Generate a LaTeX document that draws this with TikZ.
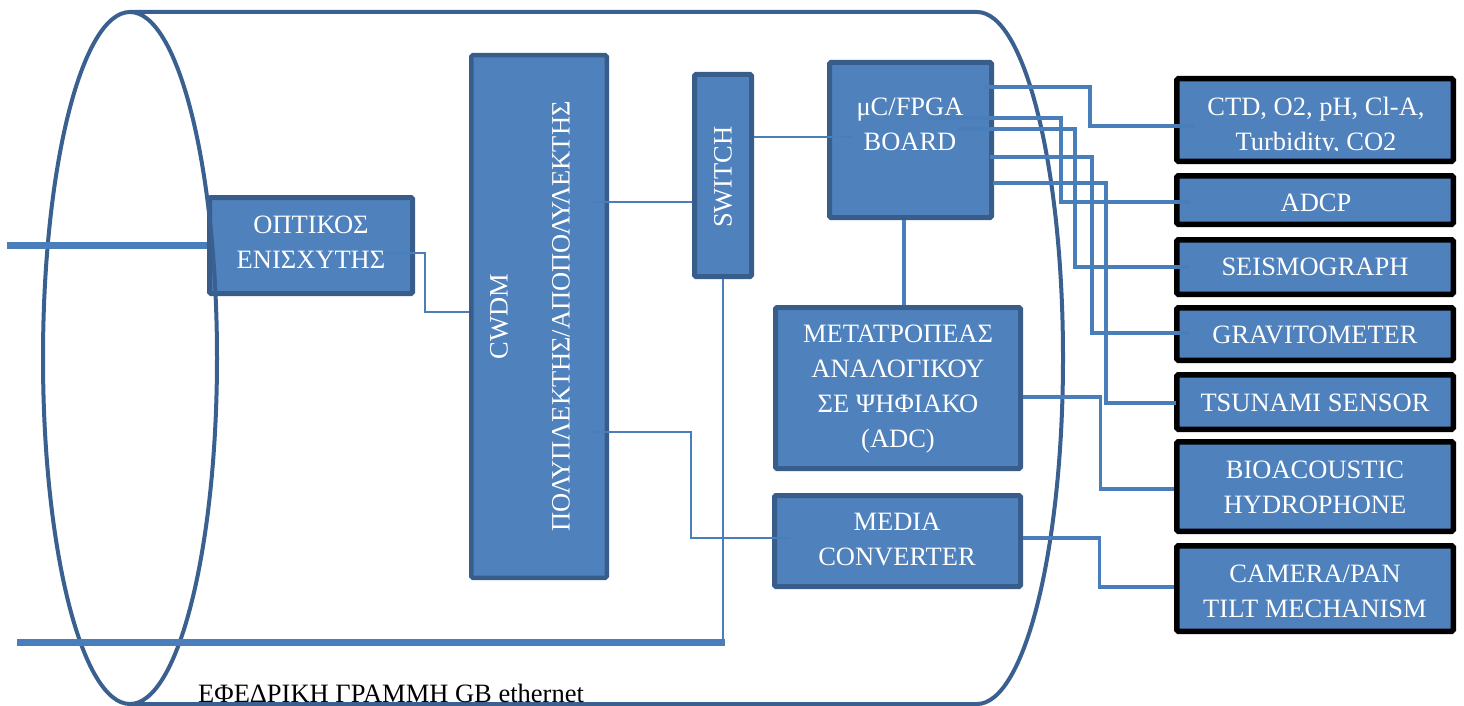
\documentclass[tikz,border=0pt]{standalone}
\usepackage{fontspec}
\setmainfont{Liberation Serif}
\usetikzlibrary{calc}
\definecolor{boxfill}{RGB}{79,129,189}
\definecolor{boxline}{RGB}{56,93,138}
\definecolor{cylline}{RGB}{58,96,144}
\definecolor{wire}{RGB}{74,126,187}
\begin{document}
\begin{tikzpicture}[x=1pt,y=-1pt,
  bbox/.style={draw=boxline, fill=boxfill, line width=5pt, rounded corners=1.5pt, inner sep=0pt},
  sbox/.style={draw=black, fill=boxfill, line width=5.5pt, rounded corners=1.5pt, inner sep=0pt},
  lbl/.style={text=white, font=\fontsize{26.5}{35}\selectfont, align=center, inner sep=0pt},
  wthin/.style={draw=wire, line width=2pt},
  wthick/.style={draw=wire, line width=3.5pt},
  cable/.style={draw=wire, line width=7pt},
  cyl/.style={draw=cylline, line width=4pt}]
\useasboundingbox (0,0) rectangle (1464,706);

% blue boxes
\node[bbox, minimum width=203pt, minimum height=96pt] (amp) at (311,245.5) {};
\node[bbox, line width=4.5pt, minimum width=135.5pt, minimum height=522.5pt] (cwdm) at (539,316.5) {};
\node[bbox, minimum width=57pt, minimum height=202pt] (switch) at (723,175.5) {};
\node[bbox, minimum width=162pt, minimum height=155pt] (mcu) at (910.5,140) {};
\node[bbox, minimum width=245pt, minimum height=161pt] (adc) at (898,388) {};
\node[bbox, minimum width=246pt, minimum height=91pt] (media) at (897.5,541) {};

% sensor boxes
\node[sbox, minimum width=276.5pt, minimum height=82.5pt] (ctd) at (1315,120) {};
\node[sbox, minimum width=276.5pt, minimum height=48.5pt] (adcp) at (1315,200) {};
\node[sbox, minimum width=276.5pt, minimum height=54.5pt] (seis) at (1315,267) {};
\node[sbox, minimum width=276.5pt, minimum height=52.5pt] (grav) at (1315,334) {};
\node[sbox, minimum width=276.5pt, minimum height=54.5pt] (tsun) at (1315,402) {};
\node[sbox, minimum width=276.5pt, minimum height=89.5pt] (bio) at (1315,486.5) {};
\node[sbox, minimum width=276.5pt, minimum height=85.5pt] (cam) at (1315,588.5) {};

% cylinder
\draw[cyl] (130,358) ellipse [x radius=87, y radius=346];
\draw[cyl] (130,12) -- (977,12) arc[start angle=-90, end angle=90, x radius=86, y radius=346] -- (130,704);

% left connectors
\draw[wthin] ($(amp.center)+(72,7.5)$) -- ++(42,0) |- ($(cwdm.west)+(0,-4.5)$);
\coordinate (c2s) at ($(cwdm.center)+(53,-114.5)$);
\draw[wthin] (c2s) -- (c2s -| switch.west);
\coordinate (c3s) at ($(switch.east)+(0,-38.5)$);
\draw[wthin] (c3s) -- ($(c3s -| mcu.west)+(25.5,0)$);
\draw[wthin] ($(cwdm.center)+(51,115.5)$) -- ++(101,0) |- ($(media.west)+(17.5,-3)$);

% cables
\coordinate (fiberIn) at (7,245.6);
\draw[cable] (fiberIn) -- (fiberIn -| amp.west);
\coordinate (backupL) at (17,642);
\coordinate (backupR) at (725,642);
\draw[cable] (backupL) -- (backupR);
\draw[wthin] (switch.south) -- (switch.south |- backupR);

% right connectors
\draw[wthick] ($(mcu.center)+(72.5,-53)$) -- ++(107,0) |- ($(ctd.west)+(20.5,6)$);
\draw[wthick] ($(mcu.center)+(17.5,-22)$) -- ++(133,0) |- ($(adcp.west)+(16,2)$);
\draw[wthick] ($(mcu.center)+(47.5,-11)$) -- ++(117,0) |- ($(seis.west)+(15,0)$);
\draw[wthick] ($(mcu.center)+(79.5,17)$) -- ++(102,0) |- ($(grav.west)+(15,-1)$);
\draw[wthick] ($(mcu.center)+(82.5,43)$) -- ++(113,0) |- ($(tsun.west)+(1.5,1)$);
\draw[wthick] ($(mcu.south)+(-6.5,0)$) -- ($(adc.north)+(6,0)$);
\draw[wthick] ($(adc.east)+(0,9)$) -- ++(77.5,0) |- ($(bio.west)+(0,2.5)$);
\draw[wthick] ($(media.east)+(0,-3)$) -- ++(76.5,0) |- ($(cam.west)+(0,-1.5)$);

% texts
\node[lbl] (amptxt) at (311,242.7) {ΟΠΤΙΚΟΣ\\ΕΝΙΣΧΥΤΗΣ};
\node[lbl, rotate=90] (cwdmtxt) at (530,316.5) {CWDM\\[27pt]ΠΟΛΥΠΛΕΚΤΗΣ/ΑΠΟΠΟΛΥΛΕΚΤΗΣ};
\node[lbl, rotate=90] (swtxt) at (723,177) {SWITCH};
\node[lbl] (mcutxt) at (910,124.5) {μC/FPGA\\BOARD};
\node[lbl] (adctxt) at (898,389) {ΜΕΤΑΤΡΟΠΕΑΣ\\ΑΝΑΛΟΓΙΚΟΥ\\ΣΕ ΨΗΦΙΑΚΟ\\(ADC)};
\node[lbl] (mediatxt) at (897,539.7) {MEDIA\\CONVERTER};
\begin{scope}
\clip (1176,76) rectangle (1456,151);
\node[lbl] (ctdtxt) at (1316,126.5) {CTD, O2, pH, Cl-A,\\Turbidity, CO2};
\end{scope}
\node[lbl] (adcptxt) at (1316,203) {ADCP};
\node[lbl] (seistxt) at (1315,266.5) {SEISMOGRAPH};
\node[lbl] (gravtxt) at (1315,334.5) {GRAVITOMETER};
\node[lbl] (tsuntxt) at (1315,402.5) {TSUNAMI SENSOR};
\node[lbl] (biotxt) at (1315,487) {BIOACOUSTIC\\HYDROPHONE};
\node[lbl] (camtxt) at (1315,591.4) {CAMERA/PAN\\TILT MECHANISM};
\node[anchor=base west, inner sep=0pt, font=\fontsize{26.5}{35}\selectfont] (backuptxt) at (198,702) {ΕΦΕΔΡΙΚΗ ΓΡΑΜΜΗ GB ethernet};
\end{tikzpicture}
\end{document}
